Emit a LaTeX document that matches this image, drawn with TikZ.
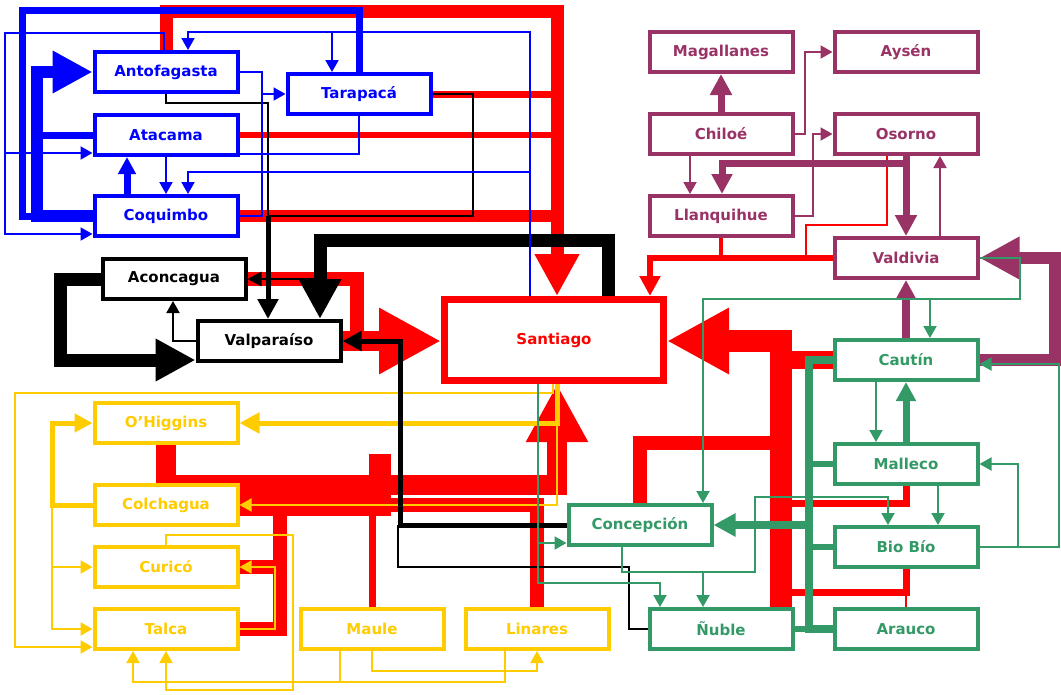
\documentclass[tikz,border=0pt]{standalone}
\usepackage{fontspec}
\setmainfont{DejaVu Sans}
\usepackage{tikz}
\usetikzlibrary{arrows.meta}
\pgfdeclarelayer{nodelayer}
\pgfdeclarelayer{edgelayer}
\pgfsetlayers{edgelayer,nodelayer,main}
\definecolor{gold}{RGB}{255,204,0}
\definecolor{plum}{RGB}{153,51,102}
\definecolor{sea}{RGB}{51,153,102}
\tikzset{prov/.style={draw=#1, text=#1, fill=white, line width=4pt, minimum width=143pt, minimum height=40pt, inner sep=0pt, font=\bfseries\fontsize{15}{18}\selectfont}}
\tikzset{capital/.style={prov=red, line width=7pt, minimum width=219pt, minimum height=81pt}}
\tikzset{arr/.style={-{Triangle[length=12pt,width=13pt]}}}
\tikzset{ahead/.style={-{Triangle[length=#1,width=#1]}}}

\begin{document}
\begin{tikzpicture}[x=1pt, y=-1pt]
        \useasboundingbox (0,0) rectangle (1061,694);
        \begin{pgfonlayer}{nodelayer}
            \node [prov=blue] (0) at (166,72) {Antofagasta};
            \node [prov=blue] (1) at (359,94) {Tarapacá};
            \node [prov=blue] (2) at (166,135) {Atacama};
            \node [prov=blue] (3) at (166,216) {Coquimbo};
            \node [prov=black] (4) at (174,279) {Aconcagua};
            \node [prov=black] (5) at (269,341) {Valparaíso};
            \node [capital] (6) at (554,340) {Santiago};
            \node [prov=gold] (7) at (166,423) {O'Higgins};
            \node [prov=gold] (8) at (166,505) {Colchagua};
            \node [prov=gold] (9) at (166,567) {Curicó};
            \node [prov=gold] (10) at (166,629) {Talca};
            \node [prov=gold] (11) at (372,629) {Maule};
            \node [prov=gold] (12) at (537,629) {Linares};
            \node [prov=sea] (13) at (640,525) {Concepción};
            \node [prov=sea] (14) at (721,629) {Ñuble};
            \node [prov=sea] (15) at (906,629) {Arauco};
            \node [prov=sea] (16) at (906,547) {Bio Bío};
            \node [prov=sea] (17) at (906,464) {Malleco};
            \node [prov=sea] (18) at (906,360) {Cautín};
            \node [prov=plum] (19) at (906,258) {Valdivia};
            \node [prov=plum] (20) at (906,134) {Osorno};
            \node [prov=plum] (21) at (906,52) {Aysén};
            \node [prov=plum] (22) at (721,52) {Magallanes};
            \node [prov=plum] (23) at (721,134) {Chiloé};
            \node [prov=plum] (24) at (721,216) {Llanquihue};
            \coordinate (aN) at (557,11);
            \coordinate (vS) at (357,341);
            \coordinate (oH) at (557,485);
            \coordinate (cB) at (380,454);
            \coordinate (tC) at (280,505);
            \coordinate (vA) at (650,258);
            \coordinate (oR) at (887,225);
            \coordinate (oM) at (806,225);
            \coordinate (rB) at (781,341);
            \coordinate (k) at (268,216);
        \end{pgfonlayer}
        \begin{pgfonlayer}{edgelayer}
            \draw [red, line width=13pt, ahead=42pt] (0.north) |- (aN) -- (6.north -| aN);
            \draw [red, line width=7pt] (1.east) -- (1.east -| aN);
            \draw [red, line width=6pt] (2.east) -- (2.east -| aN);
            \draw [red, line width=12pt] (3.east) -- (3.east -| aN);
            \draw [red, line width=20pt, ahead=62pt] (5.east) -- (5.east -| 6.west);
            \draw [red, line width=14pt] (4.east) -| (vS);
            \draw [red, line width=20pt, ahead=58pt] (7.south) |- (oH) -- (6.south -| oH);
            \draw [red, line width=22pt] (8.east) -| (cB);
            \draw [red, line width=14pt] (9.east) -| (tC);
            \draw [red, line width=14pt] (10.east) -| (tC |- 9.east);
            \draw [red, line width=7pt] (11.north) -- (11.north |- tC);
            \draw [red, line width=14pt] (12.north) |- (cB |- tC);
            \draw [red, line width=6pt, ahead=20pt] (19.west) -| (vA |- 6.north);
            \draw [red, line width=4pt] (24.south) -- (24.south |- 19.west);
            \draw [red, line width=2pt] (20.south -| oR) -- (oR) -- (oM) -- (oM |- 19.west);
            \draw [red, line width=18pt] (18.west) -- (18.west -| rB);
            \draw [red, line width=22pt, ahead=62pt] (14.north -| rB) -- (rB) -- (6.east |- rB);
            \draw [red, line width=14pt] (13.north) |- (rB |- 0,443);
            \draw [red, line width=7pt] (17.south) |- (rB |- 0,503);
            \draw [red, line width=7pt] (16.south) |- (rB |- 0,592);
            \draw [red, line width=2pt] (15.north) -- (15.north |- 0,592);
            \draw [plum, line width=7pt, ahead=21pt] (23.north) -- (22.south);
            \draw [plum, line width=2pt, arr] (23.east) -| (805,0 |- 21.west) -- (21.west);
            \draw [plum, line width=2pt, arr] (24.east) -| (813,0 |- 20.west) -- (20.west);
            \draw [plum, line width=2pt, arr] (23.south -| 690,0) -- (24.north -| 690,0);
            \draw [plum, line width=7pt, ahead=20pt] (20.south) |- (722,163) -- (24.north -| 722,0);
            \draw [plum, line width=7pt, ahead=21pt] (20.south) -- (19.north);
            \draw [plum, line width=2pt, arr] (19.north -| 940,0) -- (20.south -| 940,0);
            \draw [plum, line width=8pt, ahead=19pt] (18.north) -- (19.south);
            \draw [plum, line width=12pt, ahead=40pt] (18.east) -| (1055,0 |- 19.east) -- (19.east);
            \draw [gold, line width=5pt, ahead=20pt] (6.south -| 557,0) |- (7.east);
            \draw [gold, line width=2pt, arr] (6.south -| 557,0) |- (8.east);
            \draw [gold, line width=2pt, arr] (6.south -| 553,0) -- (553,393) -| (15,647) -- (10.west |- 0,647);
            \draw [gold, line width=5pt, ahead=18pt] (8.west) -| (52,0 |- 7.west) -- (7.west);
            \draw [gold, line width=2pt, arr] (8.west -| 52,0) |- (10.west);
            \draw [gold, line width=2pt, arr] (9.west -| 52,0) -- (9.west);
            \draw [gold, line width=2pt, arr] (10.east) -| (275,0 |- 9.east) -- (9.east);
            \draw [gold, line width=2pt, arr] (9.north) |- (293,535) |- (166,690) -- (10.south);
            \draw [gold, line width=2pt, arr] (12.south -| 505,0) |- (133,682) -- (10.south -| 133,0);
            \draw [gold, line width=2pt] (11.south -| 340,0) -- (340,682);
            \draw [gold, line width=2pt, arr] (11.south) |- (537,671) -- (12.south);
            \draw [black, line width=2pt] (0.south) |- (268,103) -- (k);
            \draw [black, line width=2pt] (1.east) -| (473,216) -- (k);
            \draw [black, line width=5pt, ahead=20pt] (k) -- (5.north -| k);
            \draw [black, line width=13pt, ahead=40pt] (6.north -| 608,0) |- (320,240) -- (5.north -| 320,0);
            \draw [black, line width=2.5pt, ahead=14pt] (4.east -| 320,0) -- (4.east);
            \draw [black, line width=13pt, ahead=40pt] (4.west) -| (60,360) -- (5.west |- 0,360);
            \draw [black, line width=2pt, arr] (5.west) -| (4.south -| 173,0);
            \draw [black, line width=5pt, ahead=19pt] (13.west) -| (400,0 |- 5.east) -- (5.east);
            \draw [black, line width=2pt] (14.west) -| (629,567) -| (398,525);
            \draw [blue, line width=7pt] (3.west) -| (22,10) -| (1.north);
            \draw [blue, line width=12pt, ahead=40pt] (3.west) -| (37,0 |- 0.west) -- (0.west);
            \draw [blue, line width=7pt] (2.west) -- (2.west -| 37,0);
            \draw [blue, line width=7pt, ahead=17pt] (3.north -| 127,0) -- (2.south -| 127,0);
            \draw [blue, line width=2pt, arr] (2.south) -- (3.north);
            \draw [blue, line width=2pt, arr] (6.north -| 530,0) |- (188,32) -- (0.north -| 188,0);
            \draw [blue, line width=2pt, arr] (332,32) -- (1.north -| 332,0);
            \draw [blue, line width=2pt, arr] (530,172) -| (3.north -| 188,0);
            \draw [blue, line width=2pt, arr] (0.north -| 164,0) |- (5,33) |- (3.west |- 0,234);
            \draw [blue, line width=2pt, arr] (5,153) -- (2.west |- 0,153);
            \draw [blue, line width=2pt, arr] (0.east) -| (262,0 |- 1.west) -- (1.west);
            \draw [blue, line width=2pt] (262,0 |- 1.west) |- (3.east);
            \draw [blue, line width=2pt] (1.south) |- (2.east |- 0,154);
            \draw [sea, line width=8pt] (18.west) -| (809,0 |- 15.west) -- (15.west);
            \draw [sea, line width=8pt, ahead=22pt] (13.east -| 809,0) -- (13.east);
            \draw [sea, line width=6pt] (17.west) -- (17.west -| 809,0);
            \draw [sea, line width=6pt] (16.west) -- (16.west -| 809,0);
            \draw [sea, line width=6pt] (14.east) -- (14.east -| 809,0);
            \draw [sea, line width=2pt, arr] (19.east) -| (1020,299) -| (13.north -| 703,0);
            \draw [sea, line width=2pt, arr] (930,299) -- (18.north -| 930,0);
            \draw [sea, line width=2pt, arr] (16.east) -| (1059,364) -- (18.east |- 0,364);
            \draw [sea, line width=2pt, arr] (16.east -| 1018,0) |- (17.east);
            \draw [sea, line width=2pt, arr] (18.south -| 876,0) -- (17.north -| 876,0);
            \draw [sea, line width=7pt, ahead=19pt] (17.north) -- (18.south);
            \draw [sea, line width=2pt, arr] (17.south -| 938,0) -- (16.north -| 938,0);
            \draw [sea, line width=2pt, arr] (13.south -| 622,0) |- (755,572) |- (888,497) -- (16.north -| 888,0);
            \draw [sea, line width=2pt, arr] (703,572) -- (14.north -| 703,0);
            \draw [sea, line width=2pt, arr] (6.south -| 538,0) |- (660,583) -- (14.north -| 660,0);
            \draw [sea, line width=2pt, arr] (538,543) -- (13.west |- 0,543);
        \end{pgfonlayer}
    \end{tikzpicture}
\end{document}
